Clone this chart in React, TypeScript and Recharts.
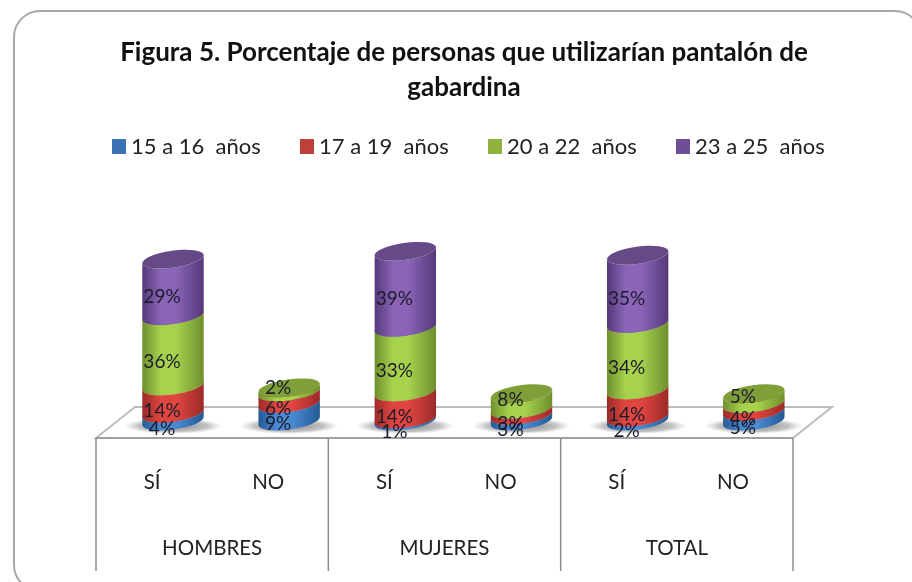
import React from "react";
import { BarChart, Bar, XAxis, YAxis, Legend, LabelList } from "recharts";

const answers = ["SÍ", "NO", "SÍ", "NO", "SÍ", "NO"];
const groups = ["HOMBRES", "HOMBRES", "MUJERES", "MUJERES", "TOTAL", "TOTAL"];
const age15 = [4, 9, 1, 3, 2, 5];
const age17 = [14, 6, 14, 3, 14, 4];
const age20 = [36, 2, 33, 8, 34, 5];
const age23 = [29, null, 39, null, 35, null];
const seriesNames = ["15 a 16  años", "17 a 19  años", "20 a 22  años", "23 a 25  años"];
const titleLines = ["Figura 5.  Porcentaje de personas que utilizarían pantalón de", "gabardina"];

const data = answers.map((answer, i) => ({
  answer,
  group: groups[i],
  a: age15[i],
  b: age17[i],
  c: age20[i],
  d: age23[i],
}));

const W = 912, H = 582;
const LEFT = 96, RIGHT = 793, BASE = 421, TOP = 226;
const FRONT = 438, BACK = 407, DEPTH = 39;
const SHIFT = 19;
const AXIS_H = 40;
const LEGEND_H = 24;
const FONT = "Lato, 'Open Sans', sans-serif";

const palette = [
  { id: "blue", side: "#4a8ad2", edge: "#245a94", top: "#4a86c8" },
  { id: "red", side: "#e0463f", edge: "#9c2a27", top: "#c43d3a" },
  { id: "green", side: "#a6d24e", edge: "#6f8f2c", top: "#7f9f38" },
  { id: "purple", side: "#8a64b6", edge: "#55397a", top: "#664a88" },
];

const tilt = 8;
const rad = (tilt * Math.PI) / 180;

function Cylinder(props: any) {
  const { x, y, width, height, colorIndex, showShadow } = props;
  if (!height || !width) return null;
  const c = palette[colorIndex];
  const cx = x + width / 2 + SHIFT;
  const rx = width / 2;
  const ry = 8.5;
  const ox = rx * Math.cos(rad);
  const oy = rx * Math.sin(rad);
  const yTop = y;
  const yBot = y + height;
  const body = `M${cx - ox} ${yTop + oy} L${cx - ox} ${yBot + oy} A${rx} ${ry} ${-tilt} 0 0 ${cx + ox} ${yBot - oy} L${cx + ox} ${yTop - oy} A${rx} ${ry} ${-tilt} 0 1 ${cx - ox} ${yTop + oy} Z`;
  return (
    <g>
      {showShadow && <ellipse cx={cx} cy={BASE + 5} rx={width * 0.8} ry={8} fill="url(#floorShadow)" />}
      <path d={body} fill={`url(#${c.id}Side)`} />
      <ellipse cx={cx} cy={yTop} rx={rx} ry={ry} fill={c.top} transform={`rotate(${-tilt} ${cx} ${yTop})`} />
    </g>
  );
}

function DataLabel(props: any) {
  const { x, y, width, height, value, index, seriesIndex } = props;
  if (value == null) return null;
  const isShortTop = seriesIndex === 2 && data[index].d == null;
  const dy = isShortTop ? -3 : seriesIndex === 3 ? 8 : 10;
  return (
    <text
      x={x + width / 2 + 8}
      y={y + height / 2 + dy}
      textAnchor="middle"
      dominantBaseline="central"
      fontFamily={FONT}
      fontSize={19}
      fill="#1c1c2c"
    >
      {value}%
    </text>
  );
}

function AnswerTick(props: any) {
  const { x, payload } = props;
  return (
    <text x={x - 2} y={481} textAnchor="middle" dominantBaseline="central" fontFamily={FONT} fontSize={20.5} fill="#222">
      {payload.value}
    </text>
  );
}

function GroupTick(props: any) {
  const { x, payload, index } = props;
  const half = (RIGHT - LEFT) / 12;
  return (
    <g>
      {index % 2 === 0 && (
        <>
          <line x1={x - half} x2={x - half} y1={FRONT} y2={571} stroke="#8c8c8c" strokeWidth={1.5} />
          <text x={x + half} y={547} textAnchor="middle" dominantBaseline="central" fontFamily={FONT} fontSize={20.5} fill="#222">
            {payload.value}
          </text>
        </>
      )}
      {index === answers.length - 1 && (
        <line x1={x + half} x2={x + half} y1={FRONT} y2={571} stroke="#8c8c8c" strokeWidth={1.5} />
      )}
    </g>
  );
}

function LegendRow(props: any) {
  const payload = props.payload || [];
  return (
    <div style={{ display: "flex", justifyContent: "flex-start", paddingLeft: 112, gap: 37, fontFamily: FONT, fontSize: 22, color: "#222", lineHeight: "24px" }}>
      {payload.map((p: any) => (
        <span key={p.value} style={{ display: "inline-flex", alignItems: "center", width: 151, whiteSpace: "pre" }}>
          <span style={{ display: "inline-block", width: 14, height: 15, background: p.color, marginRight: 5, flex: "none" }} />
          {p.value}
        </span>
      ))}
    </div>
  );
}

const seriesKeys = ["a", "b", "c", "d"];
const legendColors = ["#3a72b4", "#c0403c", "#8fb13e", "#6f4e98"];

export default function App() {
  return (
    <div style={{ position: "absolute", left: 0, top: 0, width: W, height: H, overflow: "hidden", background: "#fff", filter: "blur(0.5px)" }}>
      <BarChart
        width={W}
        height={H}
        data={data}
        margin={{ left: LEFT, right: W - RIGHT, top: TOP - LEGEND_H, bottom: H - BASE - 2 * AXIS_H }}
        barCategoryGap={0}
      >
        <defs>
          {palette.map((c) => (
            <linearGradient key={c.id} id={`${c.id}Side`} x1="0" x2="1" y1="0" y2="0">
              <stop offset="0" stopColor={c.edge} />
              <stop offset="0.3" stopColor={c.side} />
              <stop offset="0.55" stopColor={c.side} />
              <stop offset="1" stopColor={c.edge} />
            </linearGradient>
          ))}
          <radialGradient id="floorShadow">
            <stop offset="0" stopColor="#777" stopOpacity={0.9} />
            <stop offset="0.7" stopColor="#999" stopOpacity={0.6} />
            <stop offset="1" stopColor="#bbb" stopOpacity={0} />
          </radialGradient>
        </defs>
        <rect x={14} y={11} width={907} height={580} rx={26} ry={26} fill="#fff" stroke="#a8a8a8" strokeWidth={2} />
        <text x={464} y={51} textAnchor="middle" dominantBaseline="central" fontFamily={FONT} fontWeight={700} fontSize={26} fill="#111">
          {titleLines[0]}
        </text>
        <text x={464} y={86} textAnchor="middle" dominantBaseline="central" fontFamily={FONT} fontWeight={700} fontSize={26} fill="#111">
          {titleLines[1]}
        </text>
        <polygon
          points={`${LEFT},${FRONT} ${LEFT + DEPTH},${BACK} ${RIGHT + DEPTH},${BACK} ${RIGHT},${FRONT}`}
          fill="#fff"
          stroke="#bdbdbd"
          strokeWidth={2}
        />
        <line x1={LEFT} x2={RIGHT} y1={FRONT} y2={FRONT} stroke="#a0a0a0" strokeWidth={2} />
        <XAxis dataKey="answer" xAxisId={0} axisLine={false} tickLine={false} interval={0} height={AXIS_H} tick={<AnswerTick />} />
        <XAxis dataKey="group" xAxisId={1} axisLine={false} tickLine={false} interval={0} height={AXIS_H} tick={<GroupTick />} />
        <YAxis hide domain={[0, 100]} />
        <Legend verticalAlign="top" align="left" height={LEGEND_H} content={<LegendRow />} wrapperStyle={{ left: 0, top: 134, width: W }} />
        {seriesKeys.map((key, si) => (
          <Bar
            key={key}
            dataKey={key}
            name={seriesNames[si]}
            stackId="s"
            barSize={62}
            fill={legendColors[si]}
            isAnimationActive={false}
            shape={(p: any) => <Cylinder {...p} colorIndex={si} showShadow={si === 0} />}
          >
            <LabelList dataKey={key} content={(p: any) => <DataLabel {...p} seriesIndex={si} />} />
          </Bar>
        ))}
      </BarChart>
    </div>
  );
}
